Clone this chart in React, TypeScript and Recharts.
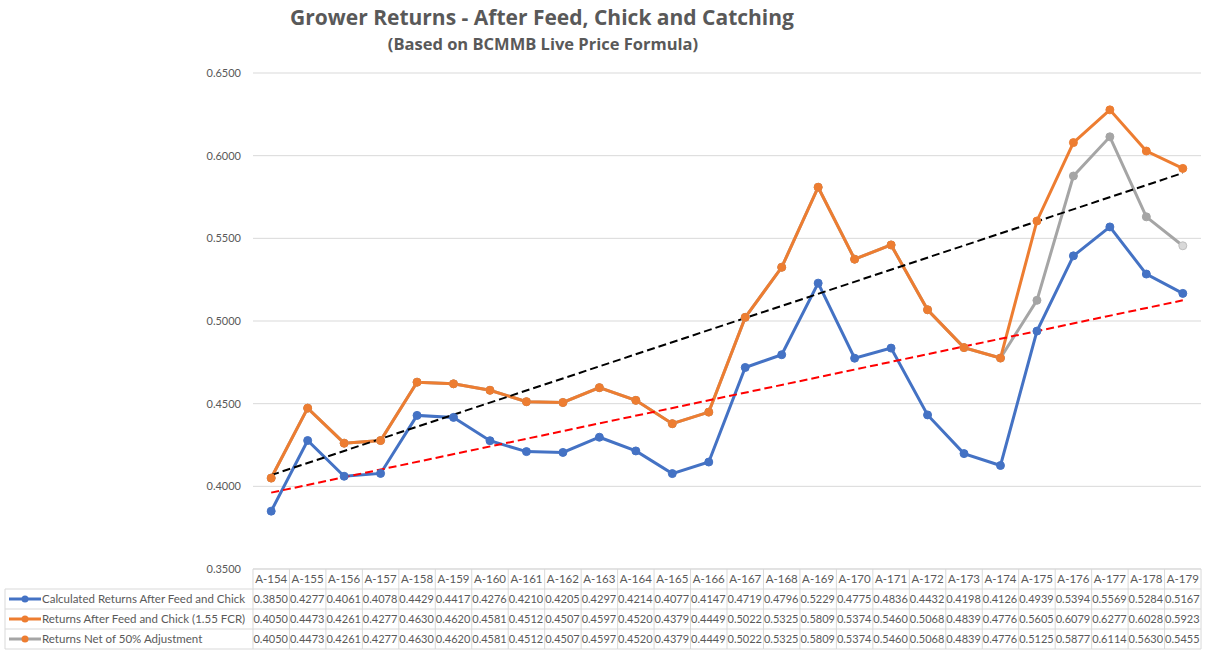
// Grower returns chart with Excel-style data table under the axis

import { LineChart, Line, XAxis, YAxis, CartesianGrid } from 'recharts'

const categories = [
  'A-154', 'A-155', 'A-156', 'A-157', 'A-158', 'A-159', 'A-160', 'A-161', 'A-162',
  'A-163', 'A-164', 'A-165', 'A-166', 'A-167', 'A-168', 'A-169', 'A-170', 'A-171',
  'A-172', 'A-173', 'A-174', 'A-175', 'A-176', 'A-177', 'A-178', 'A-179',
]

const calculated = [
  0.385, 0.4277, 0.4061, 0.4078, 0.4429, 0.4417, 0.4276, 0.421, 0.4205, 0.4297, 0.4214,
  0.4077, 0.4147, 0.4719, 0.4796, 0.5229, 0.4775, 0.4836, 0.4432, 0.4198, 0.4126,
  0.4939, 0.5394, 0.5569, 0.5284, 0.5167,
]

const afterFeed = [
  0.405, 0.4473, 0.4261, 0.4277, 0.463, 0.462, 0.4581, 0.4512, 0.4507, 0.4597, 0.452,
  0.4379, 0.4449, 0.5022, 0.5325, 0.5809, 0.5374, 0.546, 0.5068, 0.4839, 0.4776,
  0.5605, 0.6079, 0.6277, 0.6028, 0.5923,
]

const netAdjusted = [
  0.405, 0.4473, 0.4261, 0.4277, 0.463, 0.462, 0.4581, 0.4512, 0.4507, 0.4597, 0.452,
  0.4379, 0.4449, 0.5022, 0.5325, 0.5809, 0.5374, 0.546, 0.5068, 0.4839, 0.4776,
  0.5125, 0.5877, 0.6114, 0.563, 0.5455,
]

// trendline end values (first / last category)
const trendAfterFeed = [0.4068, 0.5895]
const trendCalculated = [0.3962, 0.5125]

const yTicks = [0.35, 0.4, 0.45, 0.5, 0.55, 0.6, 0.65]

const seriesNames = [
  'Calculated Returns After Feed and Chick',
  'Returns After Feed and Chick (1.55 FCR)',
  'Returns Net of 50% Adjustment',
]

const BLUE = '#4472C4'
const ORANGE = '#ED7D31'
const GREY = '#A5A5A5'
const TEXT = '#595959'
const BORDER = '#d9d9d9'
const FONT = 'Lato, "Open Sans", sans-serif'

const last = categories.length - 1

const data = categories.map((c, i) => ({
  cat: c,
  calculated: calculated[i],
  afterFeed: afterFeed[i],
  netAdjusted: netAdjusted[i],
  trendA: i === 0 ? trendAfterFeed[0] : i === last ? trendAfterFeed[1] : null,
  trendC: i === 0 ? trendCalculated[0] : i === last ? trendCalculated[1] : null,
}))

const tableRows = [calculated, afterFeed, netAdjusted]
const legendColors = [
  { line: BLUE, dot: BLUE },
  { line: ORANGE, dot: ORANGE },
  { line: GREY, dot: ORANGE },
]

const CELL_W = 36.46
const HEAD_H = 20
const ROW_H = 20

function TableTick(props: any) {
  const { x, y, payload, index } = props
  const left = x - CELL_W / 2
  const bottom = y + HEAD_H + ROW_H * 3
  return (
    <g fontFamily={FONT} fontSize={11.5} fill={TEXT}>
      <line x1={left} y1={y} x2={left} y2={bottom} stroke={BORDER} />
      {index === last && <line x1={left + CELL_W} y1={y} x2={left + CELL_W} y2={bottom} stroke={BORDER} />}
      <text x={x} y={y + 14} textAnchor="middle" fill={TEXT}>{payload.value}</text>
      {tableRows.map((row, r) => (
        <g key={r}>
          <line x1={left} y1={y + HEAD_H + ROW_H * r} x2={left + CELL_W} y2={y + HEAD_H + ROW_H * r} stroke={BORDER} />
          <text x={left + 0.5} y={y + HEAD_H + ROW_H * r + 14} fontSize={11} fill={TEXT}>
            {row[index].toFixed(4)}
          </text>
        </g>
      ))}
      <line x1={left} y1={bottom} x2={left + CELL_W} y2={bottom} stroke={BORDER} />
      {index === 0 && (
        <g>
          {seriesNames.map((name, r) => {
            const top = y + HEAD_H + ROW_H * r
            return (
              <g key={name}>
                <line x1={5} y1={top} x2={left} y2={top} stroke={BORDER} />
                <line x1={9} y1={top + 10} x2={41} y2={top + 10} stroke={legendColors[r].line} strokeWidth={3} />
                <circle cx={25} cy={top + 10} r={3.5} fill={legendColors[r].dot} />
                <text x={42} y={top + 14} fill={TEXT}>{name}</text>
              </g>
            )
          })}
          <line x1={5} y1={y + HEAD_H} x2={5} y2={bottom} stroke={BORDER} />
          <line x1={5} y1={bottom} x2={left} y2={bottom} stroke={BORDER} />
        </g>
      )}
    </g>
  )
}

function GreyDot(props: any) {
  const { cx, cy, index } = props
  const isLast = index === last
  return (
    <circle
      key={index}
      cx={cx}
      cy={cy}
      r={4}
      fill={isLast ? '#d9d9d9' : GREY}
      stroke={isLast ? '#bfbfbf' : GREY}
      strokeWidth={1}
    />
  )
}

export default function App() {
  return (
    <div style={{ position: 'absolute', left: 0, top: 0, width: 1209, height: 650, background: '#fff' }}>
      <div
        style={{
          position: 'absolute',
          left: 0,
          width: 1084,
          top: 2,
          textAlign: 'center',
          fontFamily: '"Open Sans", sans-serif',
          fontWeight: 700,
          color: TEXT,
        }}
      >
        <div style={{ fontSize: 21, lineHeight: '30px' }}>Grower Returns - After Feed, Chick and Catching</div>
        <div style={{ fontSize: 16.5, lineHeight: '24px', marginLeft: 2 }}>(Based on BCMMB Live Price Formula)</div>
      </div>
      <LineChart
        width={1209}
        height={650}
        data={data}
        margin={{ top: 73, right: 8, left: 193, bottom: 1 }}
        style={{ position: 'absolute', left: 0, top: 0 }}
      >
        <CartesianGrid vertical={false} stroke={BORDER} />
        <XAxis
          dataKey="cat"
          height={80}
          tickSize={0}
          tickMargin={0}
          padding={{ left: 18.2, right: 18.2 }}
          axisLine={{ stroke: BORDER }}
          interval={0}
          tick={<TableTick />}
        />
        <YAxis
          domain={[0.35, 0.65]}
          ticks={yTicks}
          width={60}
          tickSize={0}
          tickMargin={12}
          axisLine={false}
          tickFormatter={(v: number) => v.toFixed(4)}
          tick={{ fontSize: 11, fill: TEXT, fontFamily: FONT }}
        />
        <Line
          dataKey="netAdjusted"
          stroke={GREY}
          strokeWidth={3}
          dot={<GreyDot />}
          isAnimationActive={false}
        />
        <Line
          dataKey="afterFeed"
          stroke={ORANGE}
          strokeWidth={3}
          dot={{ r: 4, fill: ORANGE, stroke: ORANGE, strokeWidth: 1 }}
          isAnimationActive={false}
        />
        <Line
          dataKey="calculated"
          stroke={BLUE}
          strokeWidth={3}
          dot={{ r: 4, fill: BLUE, stroke: BLUE, strokeWidth: 1 }}
          isAnimationActive={false}
        />
        <Line
          dataKey="trendA"
          connectNulls
          stroke="#000"
          strokeWidth={2}
          strokeDasharray="8 4"
          dot={false}
          activeDot={false}
          isAnimationActive={false}
        />
        <Line
          dataKey="trendC"
          connectNulls
          stroke="#ff0000"
          strokeWidth={2}
          strokeDasharray="8 4"
          dot={false}
          activeDot={false}
          isAnimationActive={false}
        />
      </LineChart>
    </div>
  )
}
